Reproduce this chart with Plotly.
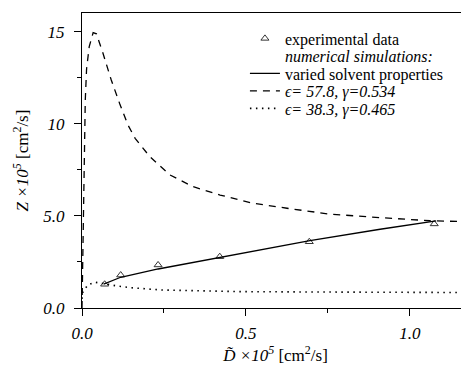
import plotly.graph_objects as go

# experimental data
x_exp = [0.069, 0.118, 0.232, 0.42, 0.693, 1.074]
y_exp = [1.29, 1.79, 2.34, 2.79, 3.60, 4.57]

# varied solvent properties (solid)
x_solid = [0.066, 0.118, 0.232, 0.42, 0.476, 0.695, 0.909, 1.08]
y_solid = [1.30, 1.67, 2.12, 2.74, 2.92, 3.66, 4.28, 4.74]

# eps=57.8, gamma=0.534 (dashed)
x_dash = [0, 0.004, 0.007, 0.010, 0.014, 0.022, 0.034, 0.044, 0.064, 0.089, 0.115,
          0.14, 0.162, 0.207, 0.268, 0.339, 0.421, 0.522, 0.625, 0.716, 0.756,
          0.909, 1.061, 1.18]
y_dash = [0, 5.0, 9.0, 11.3, 13.0, 14.2, 14.96, 14.9, 13.84, 12.4, 11.1,
          9.95, 9.22, 8.22, 7.23, 6.59, 6.14, 5.69, 5.42, 5.20, 5.10,
          4.91, 4.74, 4.69]

# eps=38.3, gamma=0.465 (dotted)
x_dot = [0, 0.003, 0.018, 0.039, 0.07, 0.105, 0.15, 0.242, 0.343, 0.476, 0.7, 0.95, 1.18]
y_dot = [0.5, 0.89, 1.25, 1.40, 1.32, 1.20, 1.10, 0.98, 0.94, 0.89, 0.87, 0.85, 0.84]

x_ticks = [0.0, 0.5, 1.0]
x_ticktext = ["<i>0.0</i>", "<i>0.5</i>", "<i>1.0</i>"]
y_ticks = [0, 5, 10, 15]
y_ticktext = ["<i>0.0</i>", "<i>5.0</i>", "<i>10</i>", "<i>15</i>"]

legend_names = ["experimental data", "<i>numerical simulations:</i>",
                "varied solvent properties", "<i>ϵ= 57.8, γ=0.534</i>",
                "<i>ϵ= 38.3, γ=0.465</i>"]

SERIF = "Liberation Serif"

fig = go.Figure()
fig.add_trace(go.Scatter(
    x=x_exp, y=y_exp, mode="markers", name=legend_names[0], legend="legend",
    marker=dict(symbol="triangle-up-open", size=7, color="#333333",
                line=dict(width=1, color="#333333"))))
fig.add_trace(go.Scatter(
    x=[None], y=[None], mode="lines", name=legend_names[1], legend="legend2",
    line=dict(width=0, color="rgba(0,0,0,0)")))
fig.add_trace(go.Scatter(
    x=x_solid, y=y_solid, mode="lines", name=legend_names[2], legend="legend3",
    line=dict(color="black", width=1.3)))
fig.add_trace(go.Scatter(
    x=x_dash, y=y_dash, mode="lines", name=legend_names[3], legend="legend4",
    line=dict(color="black", width=1.3, dash="7px,6px")))
fig.add_trace(go.Scatter(
    x=x_dot, y=y_dot, mode="lines", name=legend_names[4], legend="legend5",
    line=dict(color="black", width=1.6, dash="1.5px,4.5px")))

leg_y = [0.9136, 0.8542, 0.7949, 0.7356, 0.6763]
legends = {}
for i, yy in enumerate(leg_y):
    key = "legend" if i == 0 else f"legend{i+1}"
    legends[key] = dict(x=0.421, y=yy, xanchor="left", yanchor="middle",
                        bgcolor="rgba(0,0,0,0)", borderwidth=0,
                        font=dict(size=16, family=SERIF, color="black"))

# page body has an 8px margin, so the figure is offset by (8, 8)
fig.update_layout(
    width=461, height=361,
    margin=dict(l=74, r=0, t=5, b=61, autoexpand=False),
    paper_bgcolor="white", plot_bgcolor="white",
    font=dict(family=SERIF, color="black", size=15),
    showlegend=True,
    **legends,
    xaxis=dict(range=[0, 1.18], tickvals=x_ticks, ticktext=x_ticktext,
               automargin=False,
               ticks="outside", ticklen=7, tickwidth=1, tickcolor="black",
               showline=True, linecolor="black", linewidth=1.3, mirror=True,
               showgrid=False, zeroline=False,
               tickfont=dict(size=17, family=SERIF, color="black"),
               ticklabelstandoff=2,
               minor=dict(tickvals=[0.25, 0.75], ticks="outside", ticklen=4,
                          tickcolor="black"),
               title=dict(text="<i>D̃ ×10<sup>5</sup></i> [cm<sup>2</sup>/s]",
                          font=dict(size=17, family=SERIF, color="black"), standoff=2)),
    yaxis=dict(range=[0, 16.03], tickvals=y_ticks, ticktext=y_ticktext,
               automargin=False,
               ticks="outside", ticklen=7, tickwidth=1, tickcolor="black",
               showline=True, linecolor="black", linewidth=1.3,
               showgrid=False, zeroline=False,
               tickfont=dict(size=17, family=SERIF, color="black"),
               ticklabelstandoff=6,
               minor=dict(tickvals=[2.5, 7.5, 12.5], ticks="outside", ticklen=4,
                          tickcolor="black"),
               title=dict(text="<i>Z ×10<sup>5</sup></i> [cm<sup>2</sup>/s]",
                          font=dict(size=17, family=SERIF, color="black"), standoff=10)),
)

fig.write_html("out.html")
